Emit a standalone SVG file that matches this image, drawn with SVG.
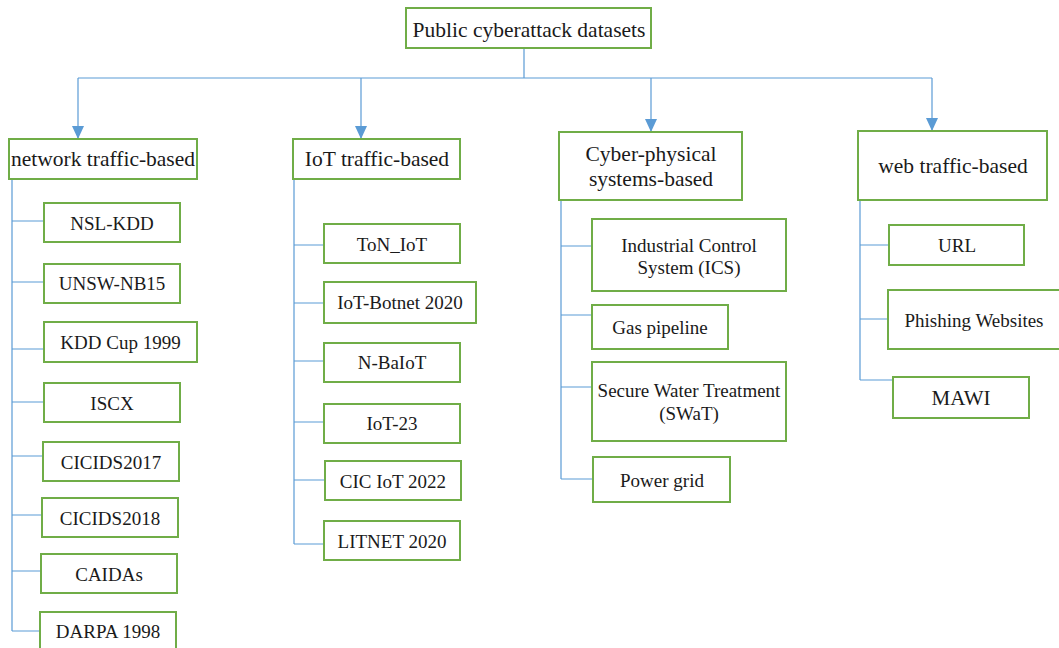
<svg xmlns="http://www.w3.org/2000/svg" width="1059" height="648" viewBox="0 0 1059 648">
<defs>
<marker id="arr" markerUnits="userSpaceOnUse" markerWidth="14" markerHeight="14" viewBox="0 0 14 14" refX="13" refY="7" orient="auto">
<path d="M0,1 L13,7 L0,13 Z" fill="#5B9BD5"/>
</marker>
<style>
.box{fill:#fff;stroke:#70AD47;stroke-width:2}
.ln{fill:none;stroke:#5B9BD5;stroke-width:1.2}
.t{font-family:"Liberation Serif","Times New Roman",serif;font-size:19px;fill:#1a1a1a;text-anchor:middle}
.tc{font-family:"Liberation Serif","Times New Roman",serif;font-size:21.5px;fill:#1a1a1a;text-anchor:middle}
</style>
</defs>
<rect width="1059" height="648" fill="#fff"/>
<g id="connectors">
<path class="ln" d="M524,48 V78 M78,78 H932"/>
<path class="ln" d="M78,78 V139" marker-end="url(#arr)"/>
<path class="ln" d="M361,78 V139" marker-end="url(#arr)"/>
<path class="ln" d="M651,78 V132" marker-end="url(#arr)"/>
<path class="ln" d="M932,78 V131" marker-end="url(#arr)"/>
<path class="ln" d="M12,179 V631 M12,221 H44 M12,282 H44 M12,349 H44 M12,402 H44 M12,456 H43 M12,515 H42 M12,571 H41 M12,631 H40"/>
<path class="ln" d="M294,179 V544 M294,245 H324 M294,303 H324 M294,361 H324 M294,422 H324 M294,480 H325 M294,544 H324"/>
<path class="ln" d="M561,200 V479 M561,246 H592 M561,315 H592 M561,387 H592 M561,479 H593"/>
<path class="ln" d="M860,194 V380 M860,245 H889 M860,319 H888 M860,380 H893"/>
</g>
<g id="root"><rect class="box" x="406" y="8" width="245" height="40"/><text class="tc" x="529" y="37">Public cyberattack datasets</text></g>
<g id="network"><rect class="box" x="9" y="139" width="188" height="40"/><text class="tc" x="103" y="166">network traffic-based</text></g>
<g id="iot"><rect class="box" x="293" y="139" width="167" height="40"/><text class="tc" x="377" y="166">IoT traffic-based</text></g>
<g id="cps"><rect class="box" x="559" y="132" width="183" height="68"/><text class="tc" x="651" y="161">Cyber-physical</text><text class="tc" x="651" y="186">systems-based</text></g>
<g id="web"><rect class="box" x="858" y="131" width="189" height="69"/><text class="tc" x="953" y="173">web traffic-based</text></g>

<g id="nsl"><rect class="box" x="44" y="203" width="136" height="39"/><text class="t" x="112" y="230">NSL-KDD</text></g>
<g id="unsw"><rect class="box" x="44" y="264" width="136" height="39"/><text class="t" x="112" y="290">UNSW-NB15</text></g>
<g id="kdd99"><rect class="box" x="44" y="322" width="153" height="40"/><text class="t" x="120.5" y="349">KDD Cup 1999</text></g>
<g id="iscx"><rect class="box" x="44" y="383" width="136" height="39"/><text class="t" x="112" y="410">ISCX</text></g>
<g id="cic17"><rect class="box" x="43" y="442" width="136" height="39"/><text class="t" x="111" y="469">CICIDS2017</text></g>
<g id="cic18"><rect class="box" x="42" y="498" width="136" height="39"/><text class="t" x="110" y="525">CICIDS2018</text></g>
<g id="caida"><rect class="box" x="41" y="554" width="136" height="39"/><text class="t" x="109" y="581">CAIDAs</text></g>
<g id="darpa"><rect class="box" x="40" y="612" width="136" height="40"/><text class="t" x="108" y="638">DARPA 1998</text></g>

<g id="ton"><rect class="box" x="324" y="224" width="136" height="39"/><text class="t" x="392" y="251">ToN_IoT</text></g>
<g id="botnet"><rect class="box" x="324" y="282" width="152" height="41"/><text class="t" x="400" y="309">IoT-Botnet 2020</text></g>
<g id="nbaiot"><rect class="box" x="324" y="343" width="136" height="39"/><text class="t" x="392" y="369">N-BaIoT</text></g>
<g id="iot23"><rect class="box" x="324" y="404" width="136" height="39"/><text class="t" x="392" y="430">IoT-23</text></g>
<g id="ciciot"><rect class="box" x="325" y="461" width="136" height="39"/><text class="t" x="393" y="488">CIC IoT 2022</text></g>
<g id="litnet"><rect class="box" x="324" y="521" width="136" height="39"/><text class="t" x="392" y="548">LITNET 2020</text></g>

<g id="ics"><rect class="box" x="592" y="219" width="194" height="72"/><text class="t" x="689" y="252">Industrial Control</text><text class="t" x="689" y="274">System (ICS)</text></g>
<g id="gas"><rect class="box" x="592" y="305" width="136" height="44"/><text class="t" x="660" y="334">Gas pipeline</text></g>
<g id="swat"><rect class="box" x="592" y="362" width="194" height="79"/><text class="t" x="689" y="397">Secure Water Treatment</text><text class="t" x="689" y="420">(SWaT)</text></g>
<g id="power"><rect class="box" x="593" y="457" width="137" height="45"/><text class="t" x="662" y="487">Power grid</text></g>

<g id="url"><rect class="box" x="889" y="225" width="135" height="40"/><text class="t" x="957" y="252">URL</text></g>
<g id="phishing"><rect class="box" x="888" y="290" width="175" height="59"/><text class="t" x="974" y="327">Phishing Websites</text></g>
<g id="mawi"><rect class="box" x="893" y="377" width="136" height="41"/><text class="tc" x="961" y="405" style="font-size:21px">MAWI</text></g>
</svg>
